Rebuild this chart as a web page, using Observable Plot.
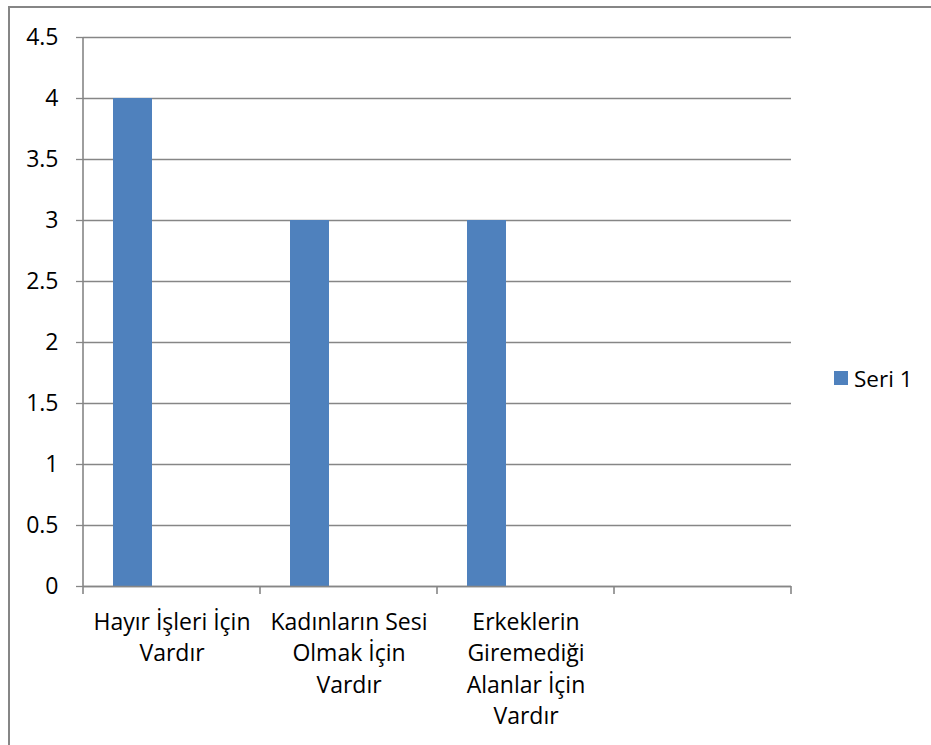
<!DOCTYPE html>
<html><head><meta charset="utf-8">
<script src="https://cdn.jsdelivr.net/npm/d3@7"></script>
<script src="https://cdn.jsdelivr.net/npm/@observablehq/plot@0.6"></script>
<style>
body{margin:0;background:#fff;}
#wrap{position:relative;width:931px;height:745px;overflow:hidden;font-family:"Open Sans",sans-serif;color:#000;}
#border{position:absolute;left:8px;top:6px;width:960px;height:780px;border-left:2px solid #868686;border-top:2px solid #868686;}
#chart{position:absolute;left:0;top:0;}
#legend{position:absolute;left:834px;top:364px;display:flex;align-items:center;font-size:22.5px;height:28px;}
#legend .sw{display:inline-block;width:14px;height:14px;margin-right:6px;}
</style></head><body>
<div id="wrap"><div id="border"></div><div id="chart"></div><div id="legend"><span class="sw"></span><span class="lbl"></span></div></div>
<script>
const categories = ["Hayır İşleri İçin Vardır", "Kadınların Sesi Olmak İçin Vardır", "Erkeklerin Giremediği Alanlar İçin Vardır", ""];
const categoryLabels = ["Hayır İşleri İçin\nVardır", "Kadınların Sesi\nOlmak İçin\nVardır", "Erkeklerin\nGiremediği\nAlanlar İçin\nVardır", ""];
const seri1 = [4, 3, 3, null];
const yTicks = [0, 0.5, 1, 1.5, 2, 2.5, 3, 3.5, 4, 4.5];
const seriesName = "Seri 1";
const barColor = "#4F81BD";
const lineColor = "#868686";

const data = categories.map((c, i) => ({category: c, value: seri1[i]})).filter(d => d.value != null);
const labelOf = new Map(categories.map((c, i) => [c, categoryLabels[i]]));

const W = 931, H = 745;
const FS = 23;
const chart = Plot.plot({
  width: W, height: H,
  marginLeft: 83, marginRight: 140, marginTop: 37, marginBottom: 159,
  style: {fontFamily: "'Open Sans', sans-serif", fontSize: FS + "px", color: "#000", background: "transparent"},
  x: {domain: categories, padding: 0, label: null},
  y: {domain: [0, 4.5], label: null},
  marks: [
    Plot.gridY(yTicks, {stroke: lineColor, strokeOpacity: 1, strokeWidth: 1.3}),
    Plot.barY(data, {x: "category", y: "value", fill: barColor, insetLeft: 30, insetRight: 108}),
    Plot.axisY({ticks: yTicks, tickFormat: d => String(d), tickSize: 7, tickPadding: 18, stroke: lineColor, strokeWidth: 1.3, fill: "#000", fontSize: FS, label: null}),
    Plot.axisX({tickSize: 0, tickPadding: 21, tickFormat: d => labelOf.get(d), lineHeight: 1.37, fill: "#000", fontSize: FS, label: null}),
    Plot.ruleY([0], {stroke: lineColor, strokeWidth: 1.6})
  ]
});
document.getElementById("chart").appendChild(chart);

// category boundary ticks and vertical axis line, from Plot's own scales
const xs = chart.scale("x"), ys = chart.scale("y");
const bw = xs.bandwidth;
const bounds = categories.map(c => xs.apply(c)).concat([xs.apply(categories[categories.length - 1]) + bw]);
const y0 = ys.apply(0), yTop = ys.apply(4.5);
const g = d3.select(chart).append("g").attr("stroke", lineColor).attr("stroke-width", 1.6);
bounds.forEach((bx, i) => {
  g.append("line").attr("x1", bx).attr("x2", bx).attr("y1", i === 0 ? yTop : y0).attr("y2", y0 + 8);
});

document.querySelector("#legend .sw").style.background = barColor;
document.querySelector("#legend .lbl").textContent = seriesName;
</script>
</body></html>
